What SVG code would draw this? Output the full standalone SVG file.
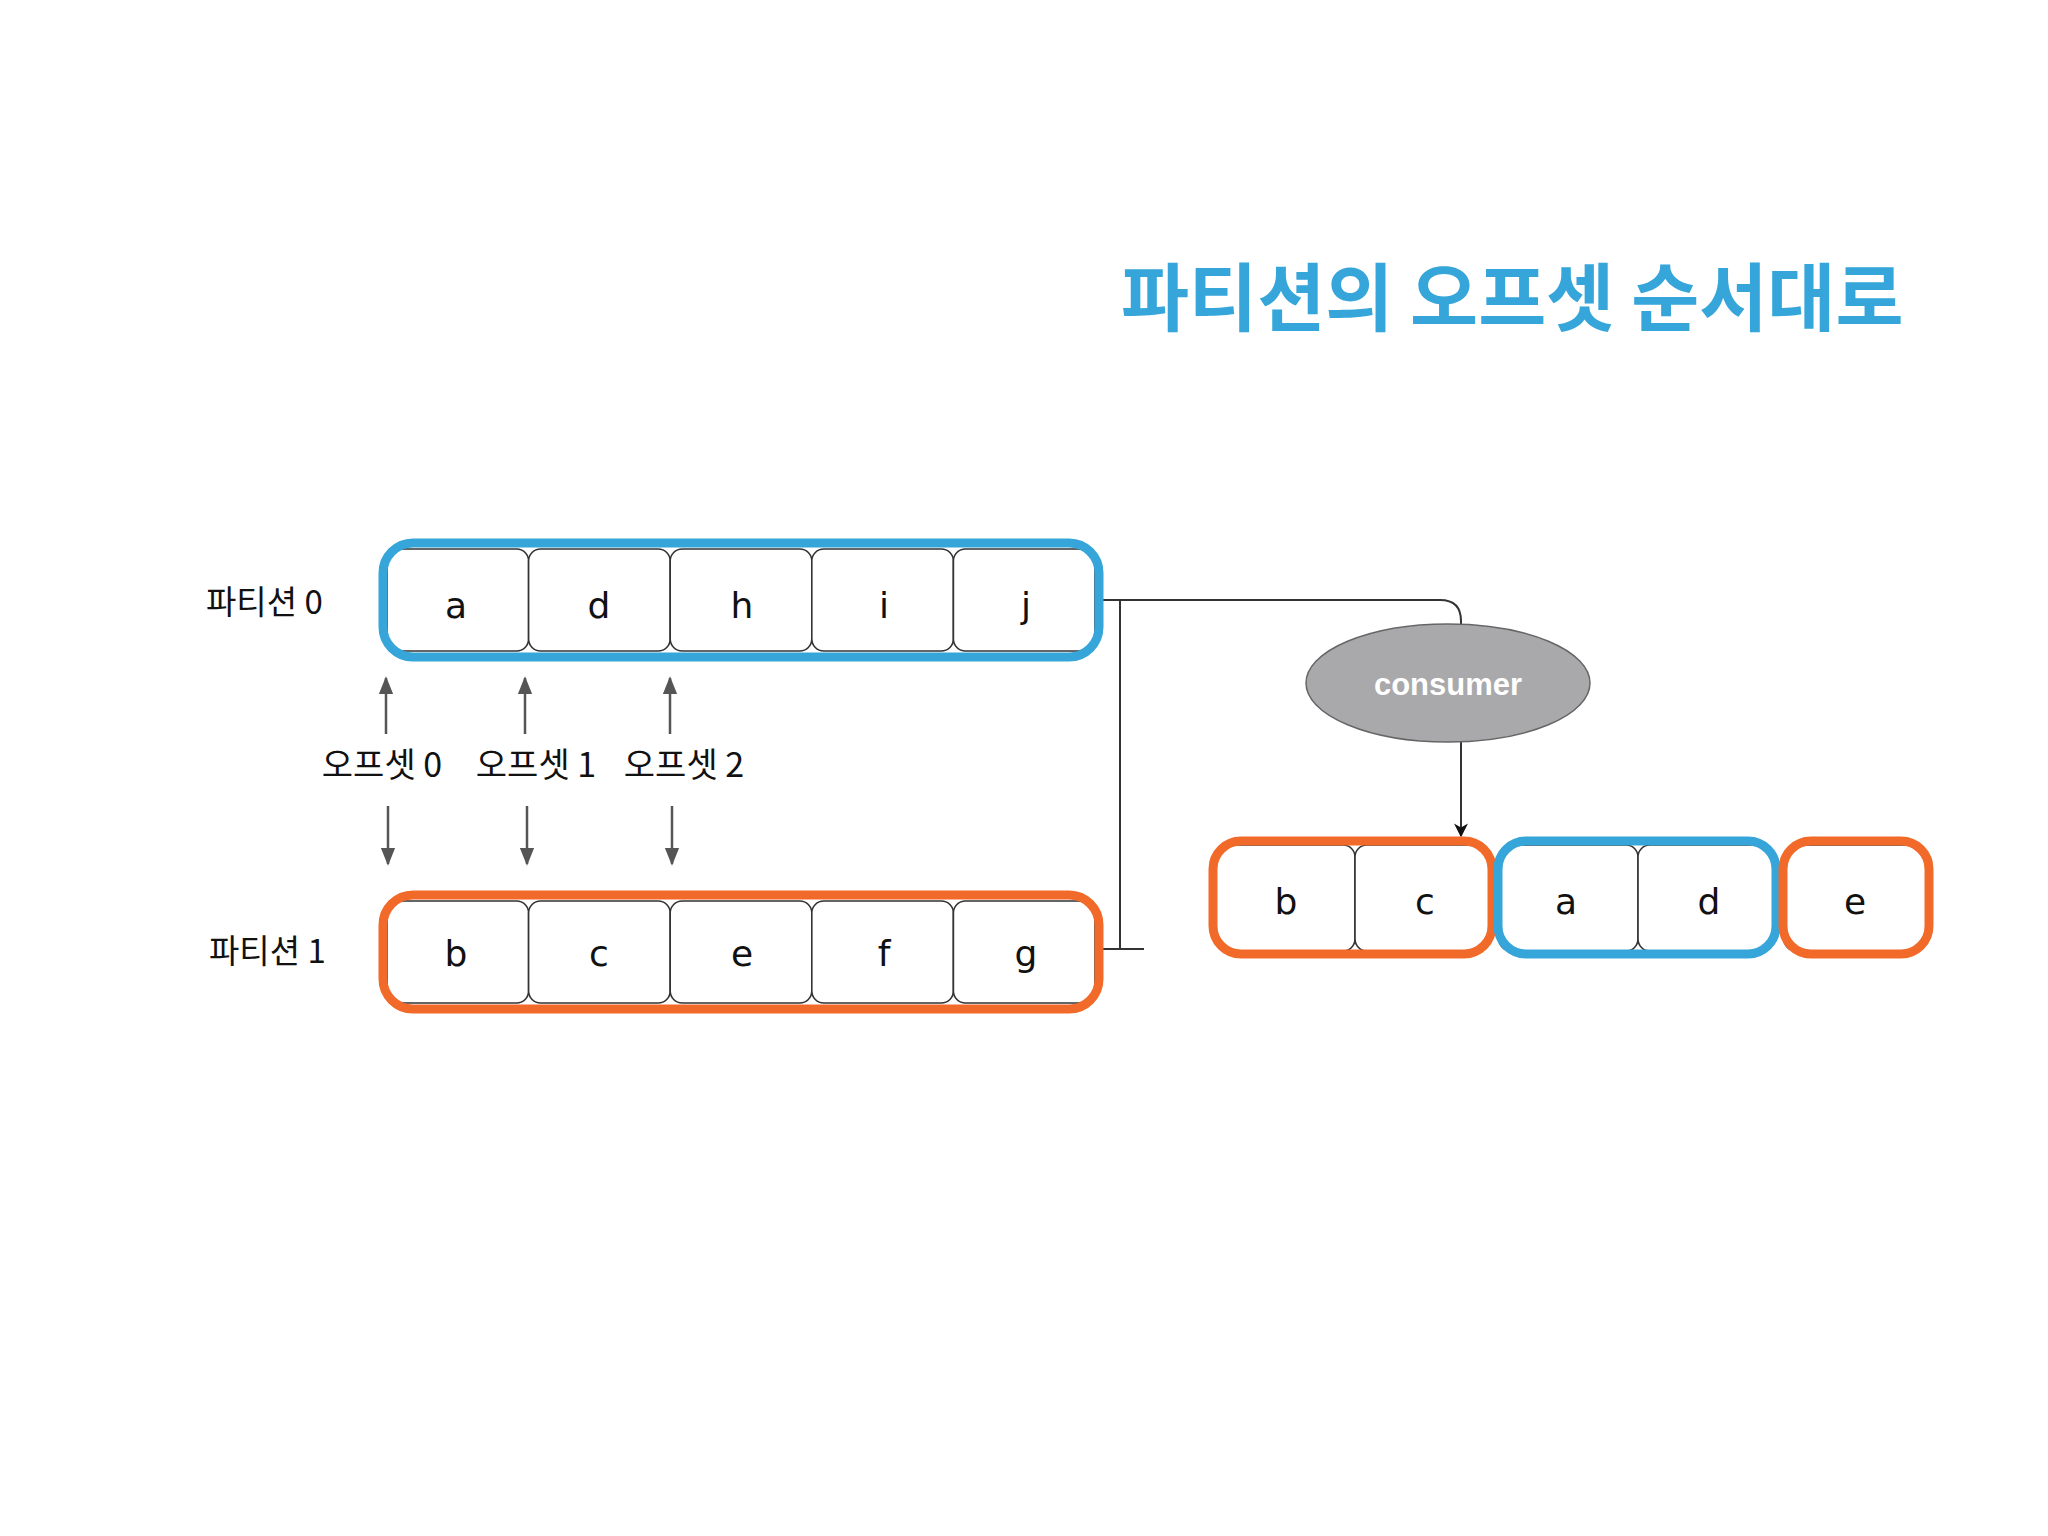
<svg xmlns="http://www.w3.org/2000/svg" width="2048" height="1536" viewBox="0 0 2048 1536">
<defs>
<style>
.cell{fill:#fff;stroke:#333;stroke-width:1.6}
.blue{fill:none;stroke:#36a6da;stroke-width:9}
.orange{fill:none;stroke:#f26a2a;stroke-width:9}
.lt{font-family:"DejaVu Sans","Noto Sans",sans-serif;font-size:36px;fill:#111;text-anchor:middle}
.kr{font-family:"Noto Sans CJK KR","Noto Sans",sans-serif;font-size:33px;fill:#111}
.off{font-family:"Noto Sans CJK KR","Noto Sans",sans-serif;font-size:34px;fill:#111;text-anchor:middle}
.ar{stroke:#555;stroke-width:2.5;fill:none}
.conn{stroke:#333;stroke-width:2;fill:none}
</style>
<marker id="ah2" viewBox="0 0 10 10" refX="9" refY="5" markerWidth="14" markerHeight="14" orient="auto" markerUnits="userSpaceOnUse">
<path d="M0,0 L10,5 L0,10 L3,5 Z" fill="#111"/>
</marker>
<marker id="ah3" viewBox="0 0 10 10" refX="9" refY="5" markerWidth="18" markerHeight="18" orient="auto" markerUnits="userSpaceOnUse">
<path d="M0,1 L10,5 L0,9 Z" fill="#555"/>
</marker>
</defs>
<rect width="2048" height="1536" fill="#fff"/>

<text id="title" x="1121" y="325" font-family="'Noto Sans CJK KR',sans-serif" font-weight="bold" font-size="74" fill="#36a6da">파티션의 오프셋 순서대로</text>

<g id="connectors">
<path class="conn" d="M1101,600 H1440 Q1461,600 1461,621 V626"/>
<path class="conn" d="M1120,600 V949 M1101,949 H1144" stroke="#555"/>
<path class="conn" d="M1461,742 V836" marker-end="url(#ah2)" stroke="#111"/>
<line class="ar" x1="386" y1="734" x2="386" y2="678" marker-end="url(#ah3)"/>
<line class="ar" x1="525" y1="734" x2="525" y2="678" marker-end="url(#ah3)"/>
<line class="ar" x1="670" y1="734" x2="670" y2="678" marker-end="url(#ah3)"/>
<line class="ar" x1="388" y1="806" x2="388" y2="864" marker-end="url(#ah3)"/>
<line class="ar" x1="527" y1="806" x2="527" y2="864" marker-end="url(#ah3)"/>
<line class="ar" x1="672" y1="806" x2="672" y2="864" marker-end="url(#ah3)"/>
</g>

<g id="partition0">
<text class="kr" x="206" y="614">파티션 0</text>
<rect class="cell" x="387" y="549" width="141.6" height="102" rx="12"/>
<rect class="cell" x="528.6" y="549" width="141.6" height="102" rx="12"/>
<rect class="cell" x="670.2" y="549" width="141.6" height="102" rx="12"/>
<rect class="cell" x="811.8" y="549" width="141.6" height="102" rx="12"/>
<rect class="cell" x="953.4" y="549" width="141.6" height="102" rx="12"/>
<text class="lt" x="456" y="618">a</text>
<text class="lt" x="599" y="618">d</text>
<text class="lt" x="742" y="618">h</text>
<text class="lt" x="884" y="618">i</text>
<text class="lt" x="1026" y="618">j</text>
<rect class="blue" x="383" y="543" width="716" height="114" rx="30"/>
</g>

<g id="offsets">
<text class="off" x="382" y="777">오프셋 0</text>
<text class="off" x="536" y="777">오프셋 1</text>
<text class="off" x="684" y="777">오프셋 2</text>
</g>

<g id="partition1">
<text class="kr" x="209" y="963">파티션 1</text>
<rect class="cell" x="387" y="901" width="141.6" height="102" rx="12"/>
<rect class="cell" x="528.6" y="901" width="141.6" height="102" rx="12"/>
<rect class="cell" x="670.2" y="901" width="141.6" height="102" rx="12"/>
<rect class="cell" x="811.8" y="901" width="141.6" height="102" rx="12"/>
<rect class="cell" x="953.4" y="901" width="141.6" height="102" rx="12"/>
<text class="lt" x="456" y="966">b</text>
<text class="lt" x="599" y="966">c</text>
<text class="lt" x="742" y="966">e</text>
<text class="lt" x="884" y="966">f</text>
<text class="lt" x="1026" y="966">g</text>
<rect class="orange" x="383" y="895" width="716" height="114" rx="30"/>
</g>

<g id="consumer">
<ellipse cx="1448" cy="683" rx="142" ry="59" fill="#a9a8aa" stroke="#666" stroke-width="1.5"/>
<text x="1448" y="695" font-family="'Liberation Sans',Arial,sans-serif" font-weight="bold" font-size="31" fill="#fff" text-anchor="middle">consumer</text>
</g>

<g id="result">
<rect class="cell" x="1216" y="845" width="139" height="106" rx="12"/>
<rect class="cell" x="1355" y="845" width="135" height="106" rx="12"/>
<rect class="cell" x="1499" y="845" width="139" height="106" rx="12"/>
<rect class="cell" x="1638" y="845" width="135" height="106" rx="12"/>
<rect class="cell" x="1784" y="845" width="142" height="106" rx="12"/>
<text class="lt" x="1286" y="914">b</text>
<text class="lt" x="1425" y="914">c</text>
<text class="lt" x="1566" y="914">a</text>
<text class="lt" x="1709" y="914">d</text>
<text class="lt" x="1855" y="914">e</text>
<rect class="orange" x="1213" y="841" width="279" height="113" rx="28"/>
<rect class="blue" x="1498" y="841" width="278" height="113" rx="28"/>
<rect class="orange" x="1783" y="841" width="146" height="113" rx="28"/>
</g>
</svg>
